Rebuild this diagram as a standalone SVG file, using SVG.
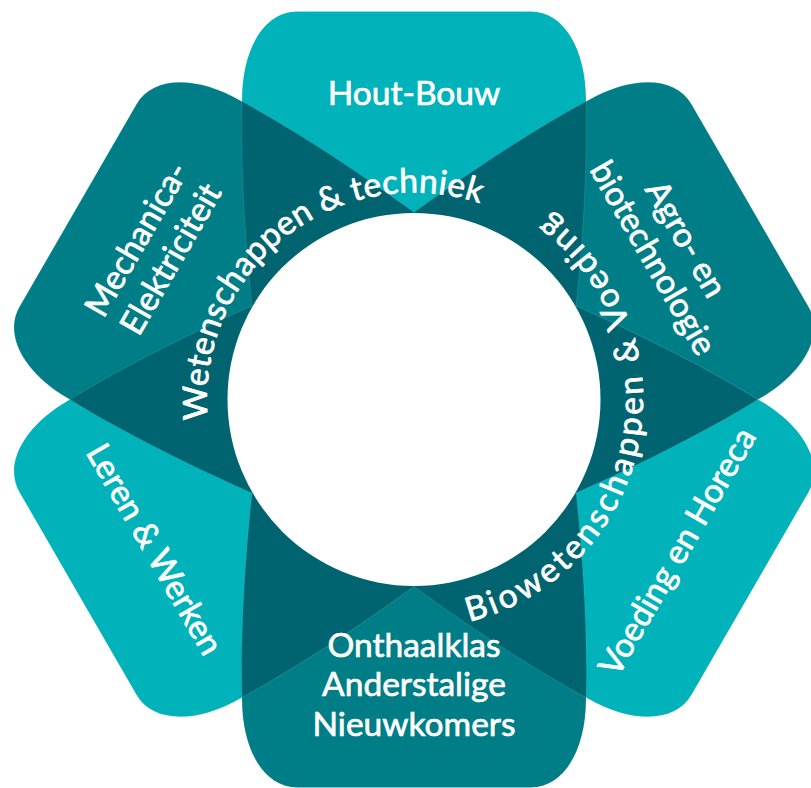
<svg xmlns="http://www.w3.org/2000/svg" xmlns:xlink="http://www.w3.org/1999/xlink" width="811" height="788" viewBox="0 0 811 788">
<style>
.light{fill:#00B2BA}
.dark{fill:#007E87}
.over{fill:#006470}
.seam{fill:none;stroke:#ffffff;stroke-opacity:0.13;stroke-width:0.8px}
.lbl{font-family:Lato,"Open Sans","Liberation Sans",sans-serif;font-size:33.5px;fill:#ffffff;stroke:#ffffff;stroke-width:0.7px;text-anchor:middle}
.arc{font-family:Lato,"Open Sans","Liberation Sans",sans-serif;font-size:33.5px;fill:#ffffff;stroke:#ffffff;stroke-width:0.7px}
</style>
<defs>
<path id="petal" d="M 0 -40 L -150 -45 L -162 -93 C -168 -150 -174 -230 -172 -300 C -172 -350 -150 -388 -117 -388 L 117 -388 C 150 -388 172 -350 172 -300 C 174 -230 168 -150 162 -93 L 150 -45 Z"/>
<clipPath id="c0"><use xlink:href="#petal" href="#petal" transform="translate(414 399.5) rotate(0)"/></clipPath>
<clipPath id="c60"><use xlink:href="#petal" href="#petal" transform="translate(414 399.5) rotate(60)"/></clipPath>
<clipPath id="c120"><use xlink:href="#petal" href="#petal" transform="translate(414 399.5) rotate(120)"/></clipPath>
<clipPath id="c180"><use xlink:href="#petal" href="#petal" transform="translate(414 399.5) rotate(180)"/></clipPath>
<clipPath id="c240"><use xlink:href="#petal" href="#petal" transform="translate(414 399.5) rotate(240)"/></clipPath>
<clipPath id="c300"><use xlink:href="#petal" href="#petal" transform="translate(414 399.5) rotate(300)"/></clipPath>
<path id="arcL" d="M 280.9 558.1 A 207 207 0 1 1 608.5 328.7"/>
<path id="arcR" d="M 299.5 597.8 A 229 229 0 1 0 374.2 174"/>
</defs>

<g id="petal-hout-bouw">
<use xlink:href="#petal" href="#petal" class="light" transform="translate(414 399.5) rotate(0)"/>
</g>
<g id="petal-agro">
<use xlink:href="#petal" href="#petal" class="dark" transform="translate(414 399.5) rotate(60)"/>
</g>
<g id="petal-voeding-horeca">
<use xlink:href="#petal" href="#petal" class="light" transform="translate(414 399.5) rotate(120)"/>
</g>
<g id="petal-onthaalklas">
<use xlink:href="#petal" href="#petal" class="dark" transform="translate(414 399.5) rotate(180)"/>
</g>
<g id="petal-leren-werken">
<use xlink:href="#petal" href="#petal" class="light" transform="translate(414 399.5) rotate(240)"/>
</g>
<g id="petal-mechanica">
<use xlink:href="#petal" href="#petal" class="dark" transform="translate(414 399.5) rotate(300)"/>
</g>

<g id="overlaps">
<g clip-path="url(#c60)"><use xlink:href="#petal" href="#petal" class="over" transform="translate(414 399.5) rotate(0)"/></g>
<g clip-path="url(#c120)"><use xlink:href="#petal" href="#petal" class="over" transform="translate(414 399.5) rotate(60)"/></g>
<g clip-path="url(#c180)"><use xlink:href="#petal" href="#petal" class="over" transform="translate(414 399.5) rotate(120)"/></g>
<g clip-path="url(#c240)"><use xlink:href="#petal" href="#petal" class="over" transform="translate(414 399.5) rotate(180)"/></g>
<g clip-path="url(#c300)"><use xlink:href="#petal" href="#petal" class="over" transform="translate(414 399.5) rotate(240)"/></g>
<g clip-path="url(#c0)"><use xlink:href="#petal" href="#petal" class="over" transform="translate(414 399.5) rotate(300)"/></g>
</g>

<g id="seams">
<use xlink:href="#petal" href="#petal" class="seam" transform="translate(414 399.5) rotate(0)"/>
<use xlink:href="#petal" href="#petal" class="seam" transform="translate(414 399.5) rotate(60)"/>
<use xlink:href="#petal" href="#petal" class="seam" transform="translate(414 399.5) rotate(120)"/>
<use xlink:href="#petal" href="#petal" class="seam" transform="translate(414 399.5) rotate(180)"/>
<use xlink:href="#petal" href="#petal" class="seam" transform="translate(414 399.5) rotate(240)"/>
<use xlink:href="#petal" href="#petal" class="seam" transform="translate(414 399.5) rotate(300)"/>
</g>

<g id="center">
<circle cx="414" cy="399.5" r="186.5" fill="#ffffff"/>
</g>

<g id="labels">
<g id="label-hout-bouw"><text class="lbl" x="414" y="105">Hout-Bouw</text></g>
<g id="label-agro" transform="translate(414 399.5) rotate(60)">
<text class="lbl" x="-3" y="-304.5">Agro- en</text>
<text class="lbl" x="-3" y="-266.5">biotechnologie</text>
</g>
<g id="label-voeding-horeca" transform="translate(414 399.5) rotate(-60)">
<text class="lbl" x="0" y="315.5">Voeding en Horeca</text>
</g>
<g id="label-onthaalklas">
<text class="lbl" x="414" y="656.5">Onthaalklas</text>
<text class="lbl" x="414" y="696">Anderstalige</text>
<text class="lbl" x="414" y="735.5">Nieuwkomers</text>
</g>
<g id="label-leren-werken" transform="translate(414 399.5) rotate(60)">
<text class="lbl" x="0" y="311">Leren &amp; Werken</text>
</g>
<g id="label-mechanica" transform="translate(414 399.5) rotate(-60)">
<text class="lbl" x="0" y="-309">Mechanica-</text>
<text class="lbl" x="0" y="-269.5">Elektriciteit</text>
</g>
</g>

<g id="ring-labels">
<g id="ring-wetenschappen"><text class="arc" letter-spacing="0.3"><textPath xlink:href="#arcL" href="#arcL" startOffset="366.3" text-anchor="middle">Wetenschappen &amp; techniek</textPath></text></g>
<g id="ring-biowetenschappen"><text class="arc" letter-spacing="3.2"><textPath xlink:href="#arcR" href="#arcR" startOffset="437" text-anchor="middle">Biowetenschappen &amp; Voeding</textPath></text></g>
</g>
</svg>
